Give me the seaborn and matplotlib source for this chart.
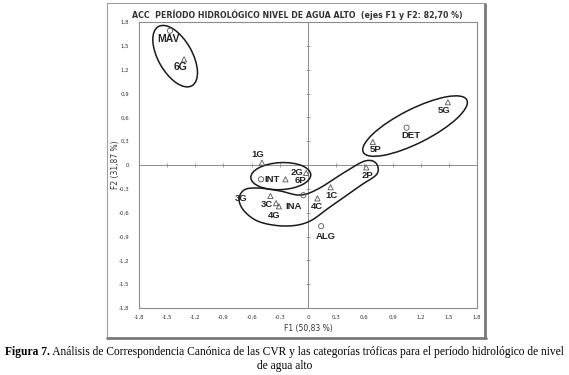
import numpy as np
import pandas as pd
import seaborn as sns
import matplotlib.pyplot as plt
from matplotlib.patches import Ellipse, Rectangle, Polygon
from matplotlib.lines import Line2D
from matplotlib.transforms import ScaledTranslation

# CCA scores
labels = ["MAV", "6G", "1G", "INT", "2G", "6P", "INA", "3G", "3C", "4G",
          "4C", "1C", "ALG", "2P", "5P", "DET", "5G"]
f1 = [-1.47, -1.32, -0.49, -0.50, -0.24, -0.02, -0.05, -0.40, -0.34, -0.31,
      0.10, 0.24, 0.14, 0.62, 0.69, 1.05, 1.49]
f2 = [1.69, 1.33, 0.03, -0.18, -0.18, -0.10, -0.38, -0.39, -0.48, -0.52,
      -0.42, -0.28, -0.77, -0.03, 0.29, 0.47, 0.79]
kind = ["var", "cat", "cat", "var", "cat", "cat", "var", "cat", "cat", "cat",
        "cat", "cat", "var", "cat", "cat", "var", "cat"]
ticks = [-1.8, -1.5, -1.2, -0.9, -0.6, -0.3, 0, 0.3, 0.6, 0.9, 1.2, 1.5, 1.8]

df = pd.DataFrame({"label": labels, "F1": f1, "F2": f2, "kind": kind})

# label offsets in pixels (dx right, dy down) from each point
label_offsets = {
    "MAV": (-2, 8), "6G": (-4, 8), "1G": (-4, -8), "INT": (11, 0),
    "2G": (12, -7), "6P": (-6, 8), "INA": (-10, 11), "3G": (-29, 3),
    "3C": (-9, 1), "4G": (-5, 9), "4C": (0, 8), "1C": (1, 8),
    "ALG": (5, 10), "2P": (1, 8), "5P": (3, 8), "DET": (4, 8), "5G": (-4, 8),
}

W, H = 569, 375
fig = plt.figure(figsize=(W / 100, H / 100), dpi=100)
sns.set_style("white")
plt.rcParams["font.family"] = ["DejaVu Sans"]
ax = fig.add_axes([139 / W, 1 - 308 / H, (477 - 139) / W, (308 - 22) / H])

gray = "#8c8c8c"
ax.set_xlim(-1.8, 1.8)
ax.set_ylim(-1.8, 1.8)
ax.set_xticks(ticks)
ax.set_yticks(ticks)
fmt = lambda v: "0" if v == 0 else f"{v:.1f}".replace(".", ",")
ax.set_xticklabels([fmt(t) for t in ticks])
ax.set_yticklabels([fmt(t) for t in ticks])
ax.tick_params(axis="x", length=0, labelsize=3.9, colors="#333333", pad=5)
ax.tick_params(axis="y", length=0, labelsize=3.9, colors="#333333", pad=7)
for s in ax.spines.values():
    s.set_color(gray)
    s.set_linewidth(0.8)

# zero axes with small tick marks
ax.axhline(0, color=gray, lw=0.7, zorder=1)
ax.axvline(0, color=gray, lw=0.7, zorder=1)
ax.plot(ticks, [0] * len(ticks), ls="none", marker="|", ms=3, mew=0.6, color=gray)
ax.plot([0] * len(ticks), ticks, ls="none", marker="_", ms=3, mew=0.6, color=gray)

# points
for k, m in [("cat", "^"), ("var", "o")]:
    sub = df[df["kind"] == k]
    sns.scatterplot(data=sub, x="F1", y="F2", marker=m, s=14, ax=ax,
                    facecolor="none", edgecolor="#555555", linewidth=0.6,
                    zorder=3, legend=False)

for _, r in df.iterrows():
    dx, dy = label_offsets[r["label"]]
    fs = 7.5 if r["label"] in ("MAV", "6G") else 6.8
    ax.annotate(r["label"], (r["F1"], r["F2"]), xytext=(dx * 0.72, -dy * 0.72),
                textcoords="offset points", ha="center", va="center",
                fontsize=fs, fontweight="bold", color="#222222",
                family="Liberation Sans", zorder=4)

# group outlines (sizes in inches, centred on data positions)
def ell(cx, cy, w, h, ang):
    tr = fig.dpi_scale_trans + ScaledTranslation(cx, cy, ax.transData)
    ax.add_patch(Ellipse((0, 0), w, h, angle=ang, transform=tr,
                         fill=False, ec="#1a1a1a", lw=1.1, zorder=2))

ell(-1.415, 1.37, 0.68, 0.34, -60.5)
ell(-0.29, -0.14, 0.60, 0.27, 3)
ell(1.14, 0.49, 1.16, 0.34, 26.8)

# lower elongated group: closed Catmull-Rom curve through outline points
bx = [-0.734, -0.681, -0.532, -0.298, -0.085, 0.106, 0.394, 0.606, 0.723,
      0.734, 0.553, 0.234, 0.0, -0.245, -0.511, -0.670]
by = [-0.441, -0.315, -0.290, -0.327, -0.378, -0.302, -0.088, 0.050, 0.025,
      -0.113, -0.264, -0.529, -0.718, -0.768, -0.718, -0.592]
P = np.column_stack([bx, by])
n = len(P)
curve = []
for i in range(n):
    p0, p1, p2, p3 = P[i - 1], P[i], P[(i + 1) % n], P[(i + 2) % n]
    for t in np.linspace(0, 1, 12, endpoint=False):
        t2, t3 = t * t, t * t * t
        curve.append(0.5 * ((2 * p1) + (-p0 + p2) * t
                            + (2 * p0 - 5 * p1 + 4 * p2 - p3) * t2
                            + (-p0 + 3 * p1 - 3 * p2 + p3) * t3))
ax.add_patch(Polygon(np.array(curve), closed=True, fill=False,
                     ec="#1a1a1a", lw=1.1, zorder=2))

ax.set_xlabel("")
ax.set_ylabel("")

# titles and axis names
fig.text(297 / W, 1 - 15 / H,
         "ACC  PERÍODO HIDROLÓGICO NIVEL DE AGUA ALTO  (ejes F1 y F2: 82,70 %)",
         ha="center", va="center", fontsize=5.7, fontweight="semibold",
         color="#333333")
fig.text(308 / W, 1 - 329 / H, "F1 (50,83 %)", ha="center", va="center",
         fontsize=5.5, color="#333333")
fig.text(115 / W, 1 - 165 / H, "F2 (31,87 %)", ha="center", va="center",
         rotation=90, fontsize=5.5, color="#333333")

# outer frame
fig.add_artist(Rectangle((107 / W, 1 - 338 / H), (485 - 107) / W, (338 - 3) / H,
                         transform=fig.transFigure, fill=False, ec="#a0a0a0",
                         lw=0.8))
fig.add_artist(Line2D([485 / W, 485 / W], [1 - 338 / H, 1 - 4 / H],
                      transform=fig.transFigure, color="#7a7a7a", lw=2))
fig.add_artist(Line2D([107 / W, 486 / W], [1 - 338 / H, 1 - 338 / H],
                      transform=fig.transFigure, color="#7a7a7a", lw=2))

# caption
fig.canvas.draw()
rend = fig.canvas.get_renderer()
cap_kw = dict(fontsize=8.3, family="Liberation Serif", va="center", color="black")
t1 = fig.text(0, 1 - 352 / H, "Figura 7.", fontweight="bold", **cap_kw)
t2 = fig.text(0, 1 - 352 / H,
              " Análisis de Correspondencia Canónica de las CVR y las categorías "
              "tróficas para el período hidrológico de nivel", **cap_kw)
w1 = t1.get_window_extent(rend).width
w2 = t2.get_window_extent(rend).width
x0 = (W - w1 - w2) / 2
t1.set_x(x0 / W)
t2.set_x((x0 + w1) / W)
fig.text(0.5, 1 - 366 / H, "de agua alto", ha="center", **cap_kw)

fig.savefig("out.png", dpi=100)
